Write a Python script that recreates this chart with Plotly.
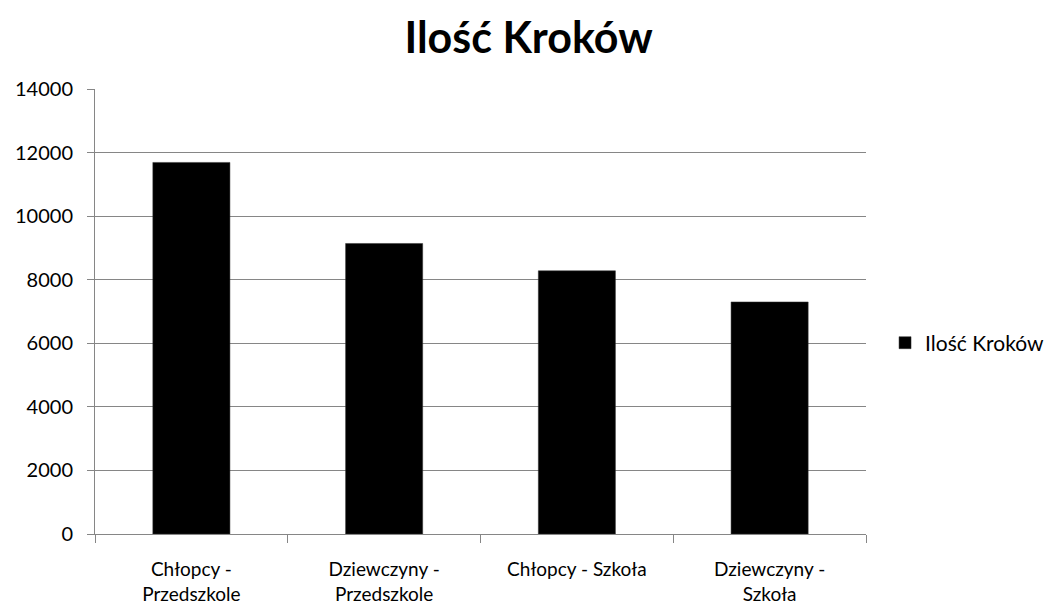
import plotly.graph_objects as go

# Step counts per group
categories = ["Chłopcy -<br>Przedszkole", "Dziewczyny -<br>Przedszkole",
              "Chłopcy - Szkoła", "Dziewczyny -<br>Szkoła"]
steps = [11690, 9140, 8280, 7300]
y_ticks = [0, 2000, 4000, 6000, 8000, 10000, 12000, 14000]

FONT = "Lato, 'Open Sans', sans-serif"
GRID = "#868686"

fig = go.Figure(
    go.Bar(
        x=categories,
        y=steps,
        name="Ilość Kroków",
        marker=dict(color="#000000", line=dict(color="#333333", width=0.5)),
        showlegend=True,
    )
)

fig.update_layout(
    width=1053,
    height=605,
    margin=dict(l=95, r=187, t=89, b=71),
    paper_bgcolor="white",
    plot_bgcolor="white",
    bargap=0.6,
    font=dict(family=FONT, size=20, color="#000000"),
    title=dict(
        text="<b>Ilość Kroków</b>",
        x=0.502,
        xanchor="center",
        xref="container",
        y=0.937,
        yanchor="middle",
        font=dict(family=FONT, size=43, color="#000000"),
    ),
    legend=dict(
        xref="container",
        yref="container",
        x=0.8405,
        xanchor="left",
        y=0.433,
        yanchor="middle",
        font=dict(family=FONT, size=21),
        itemwidth=30,
    ),
)

fig.update_yaxes(
    range=[0, 14000],
    tickvals=y_ticks,
    ticktext=[str(v) for v in y_ticks],
    showgrid=True,
    gridcolor=GRID,
    gridwidth=1,
    showline=True,
    linecolor=GRID,
    linewidth=1,
    ticks="outside",
    ticklen=7,
    tickcolor=GRID,
    zeroline=False,
    automargin=False,
    ticklabelstandoff=10,
    tickfont=dict(family=FONT, size=20),
)

fig.update_xaxes(
    showline=True,
    linecolor=GRID,
    linewidth=1,
    ticks="outside",
    tickson="boundaries",
    ticklen=8,
    tickcolor=GRID,
    showgrid=False,
    automargin=False,
    ticklabelstandoff=18,
    tickfont=dict(family=FONT, size=19),
)

fig.write_html("out.html")
